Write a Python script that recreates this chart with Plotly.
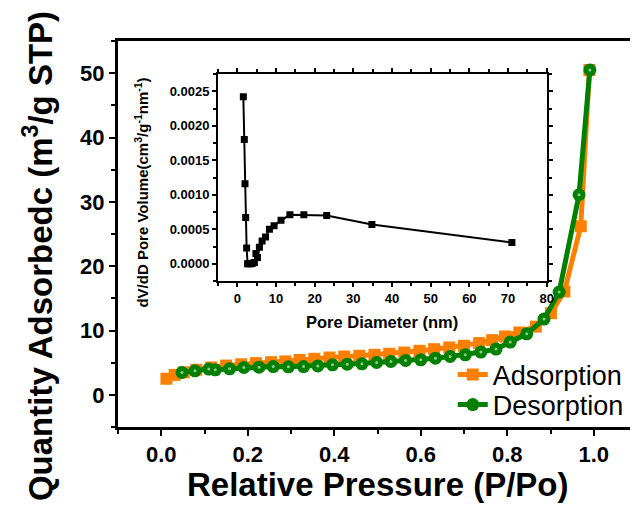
import plotly.graph_objects as go

# Main isotherm data
ads_p = [0.012, 0.031, 0.052, 0.081, 0.115, 0.150, 0.185, 0.219, 0.254, 0.287, 0.320, 0.354,
         0.389, 0.423, 0.458, 0.493, 0.527, 0.562, 0.597, 0.631, 0.666, 0.700, 0.735, 0.765,
         0.795, 0.828, 0.866, 0.901, 0.932, 0.970, 0.990]
ads_v = [2.5, 3.1, 3.5, 3.9, 4.25, 4.55, 4.75, 4.93, 5.08, 5.2, 5.42, 5.6,
         5.8, 5.96, 6.07, 6.22, 6.38, 6.58, 6.84, 7.1, 7.36, 7.62, 8.04, 8.5,
         9.07, 9.69, 10.6, 12.7, 16.07, 26.2, 50.5]

des_p = [0.048, 0.078, 0.110, 0.125, 0.158, 0.191, 0.226, 0.259, 0.294, 0.329, 0.362, 0.396,
         0.430, 0.464, 0.498, 0.531, 0.565, 0.600, 0.634, 0.668, 0.703, 0.739, 0.774, 0.807,
         0.845, 0.885, 0.920, 0.966, 0.991]
des_v = [3.47, 3.73, 4.0, 3.89, 4.04, 4.25, 4.3, 4.4, 4.35, 4.4, 4.5, 4.67,
         4.77, 4.82, 5.03, 5.18, 5.34, 5.44, 5.7, 5.96, 6.22, 6.65, 7.11, 8.2,
         9.49, 11.77, 15.97, 31.1, 50.5]

# Inset pore size distribution
pore_d = [1.55, 1.8, 1.98, 2.15, 2.4, 2.65, 3.0, 3.5, 4.0, 4.4, 4.8, 5.2, 5.7, 6.4, 7.3,
          8.3, 9.5, 11.3, 13.6, 17.2, 23.1, 34.8, 71.0]
pore_v = [0.00242, 0.0018, 0.00116, 0.00067, 0.00023, 0.0, 0.0, 0.0, 0.00001, 0.00002,
          0.00015, 0.00009, 0.00024, 0.00033, 0.00039, 0.0005, 0.00055, 0.00063, 0.00071,
          0.00071, 0.0007, 0.00057, 0.00031]

x_ticks = [0.0, 0.2, 0.4, 0.6, 0.8, 1.0]
x_ticktext = ["0.0", "0.2", "0.4", "0.6", "0.8", "1.0"]
y_ticks = [0, 10, 20, 30, 40, 50]
ix_ticks = [0, 10, 20, 30, 40, 50, 60, 70, 80]
iy_ticks = [0.0, 0.0005, 0.0010, 0.0015, 0.0020, 0.0025]

FONT = "Liberation Sans, Arial, sans-serif"
ORANGE = "#FF8000"
GREEN = "#008000"

fig = go.Figure()

fig.add_trace(go.Scatter(
    x=ads_p, y=ads_v, mode="lines+markers", name="Adsorption", legend="legend",
    line=dict(color=ORANGE, width=5),
    marker=dict(symbol="square", size=12, color=ORANGE),
))
fig.add_trace(go.Scatter(
    x=des_p, y=des_v, mode="lines+markers", name="Desorption", legend="legend2",
    line=dict(color=GREEN, width=5),
    marker=dict(symbol="circle", size=13, color=GREEN, line=dict(width=0)),
))
# sphere highlight
fig.add_trace(go.Scatter(
    x=des_p, y=des_v, mode="markers", showlegend=False, hoverinfo="skip",
    marker=dict(symbol="circle", size=3, color="#8fcc8f", line=dict(width=0)),
))

fig.add_trace(go.Scatter(
    x=pore_d, y=pore_v, mode="lines+markers", showlegend=False,
    line=dict(color="black", width=2),
    marker=dict(symbol="square", size=7, color="black"),
    xaxis="x2", yaxis="y2",
))

legend_common = dict(
    xanchor="left", yanchor="middle",
    bgcolor="rgba(0,0,0,0)", borderwidth=0,
    font=dict(family=FONT, size=27, color="black"),
    itemwidth=30,
)

fig.update_layout(
    width=630, height=501,
    margin=dict(l=110, r=1, t=33, b=82, autoexpand=False),
    paper_bgcolor="white", plot_bgcolor="white",
    font=dict(family=FONT, color="black"),
    showlegend=True,
    legend=dict(x=0.645, y=0.135, **legend_common),
    legend2=dict(x=0.645, y=0.057, **legend_common),
    xaxis=dict(
        domain=[0, 1], range=[-0.1, 1.1], automargin=False,
        tickvals=x_ticks, ticktext=x_ticktext,
        ticks="outside", ticklen=6, tickwidth=2, tickcolor="black",
        minor=dict(dtick=0.1, ticks="outside", ticklen=4, tickwidth=2, tickcolor="black"),
        showline=True, linewidth=3, linecolor="black", mirror=True,
        showgrid=False, zeroline=False,
        tickfont=dict(family=FONT, size=22, weight="bold"),
    ),
    yaxis=dict(
        domain=[0, 1], range=[-5, 55], automargin=False,
        tickvals=y_ticks,
        ticks="outside", ticklen=6, tickwidth=2, tickcolor="black",
        minor=dict(dtick=5, ticks="outside", ticklen=4, tickwidth=2, tickcolor="black"),
        showline=True, linewidth=3, linecolor="black",
        showgrid=False, zeroline=False,
        tickfont=dict(family=FONT, size=22, weight="bold"),
    ),
    xaxis2=dict(
        domain=[0.1927, 0.826], anchor="y2", range=[-5, 80], automargin=False,
        tickvals=ix_ticks,
        ticks="outside", ticklen=4, tickwidth=1.5, tickcolor="black",
        minor=dict(dtick=5, ticks="outside", ticklen=3, tickwidth=1.5, tickcolor="black"),
        showline=True, linewidth=2, linecolor="black", mirror="ticks",
        showgrid=False, zeroline=False,
        tickfont=dict(family=FONT, size=13, weight="bold"),
    ),
    yaxis2=dict(
        domain=[0.378, 0.9145], anchor="x2", range=[-0.00025, 0.00275], automargin=False,
        tickvals=iy_ticks, tickformat=".4f",
        ticks="outside", ticklen=4, tickwidth=1.5, tickcolor="black",
        minor=dict(dtick=0.00025, ticks="outside", ticklen=3, tickwidth=1.5, tickcolor="black"),
        showline=True, linewidth=2, linecolor="black", mirror="ticks",
        showgrid=False, zeroline=False,
        tickfont=dict(family=FONT, size=13, weight="bold"),
    ),
    shapes=[dict(type="line", xref="paper", yref="paper", x0=1, x1=1, y0=0, y1=1,
                 line=dict(color="#888888", width=1))],
    annotations=[
        dict(text="<b>Relative Pressure (P/Po)</b>", xref="paper", yref="paper",
             x=0.5, y=-0.150, xanchor="center", yanchor="middle", showarrow=False,
             font=dict(family=FONT, size=33, color="black")),
        dict(text="<b>Quantity Adsorbedc (m<sup>3</sup>/g STP)</b>", xref="paper", yref="paper",
             x=-0.154, y=0.443, xanchor="center", yanchor="middle", showarrow=False,
             textangle=-90, font=dict(family=FONT, size=33, color="black")),
        dict(text="<b>Pore Diameter (nm)</b>", xref="paper", yref="paper",
             x=0.5087, y=0.272, xanchor="center", yanchor="middle", showarrow=False,
             font=dict(family=FONT, size=16.5, color="black")),
        dict(text="<b>dV/dD Pore Volume(cm<sup>3</sup>/g<sup>-1</sup>nm<sup>-1</sup>)</b>",
             xref="paper", yref="paper",
             x=0.046, y=0.607, xanchor="center", yanchor="middle", showarrow=False,
             textangle=-90, font=dict(family=FONT, size=15, color="black")),
    ],
)

fig.write_html("out.html")
